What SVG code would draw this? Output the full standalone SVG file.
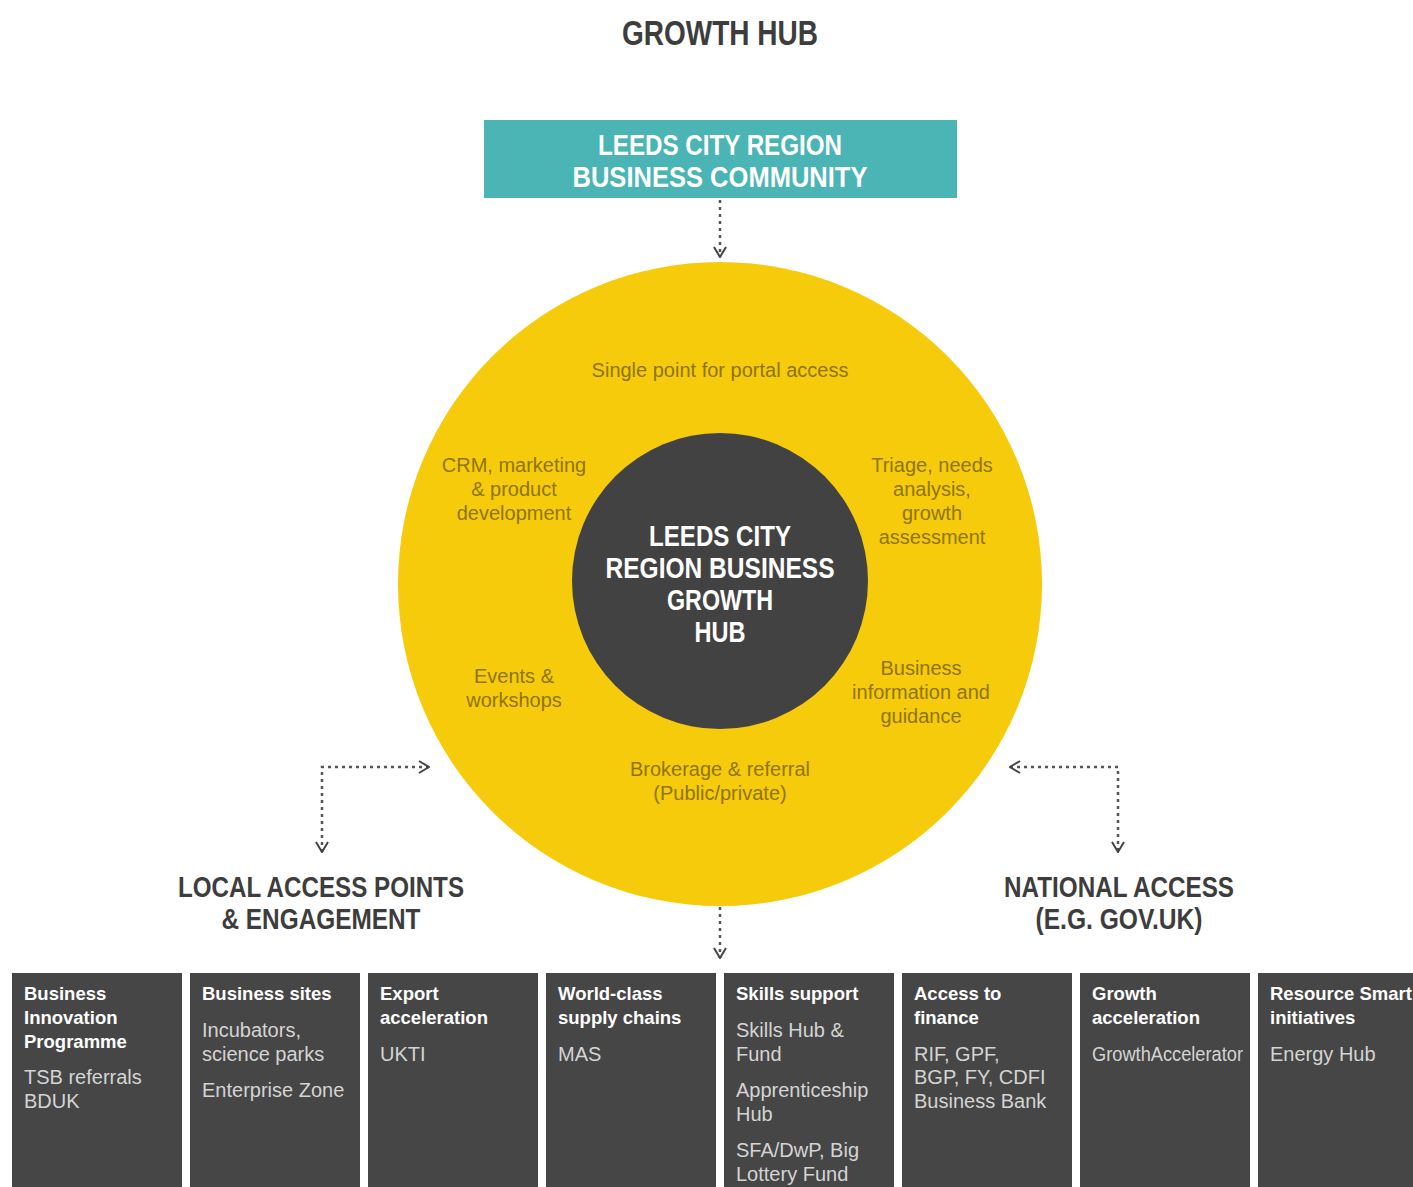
<svg xmlns="http://www.w3.org/2000/svg" width="1413" height="1187" viewBox="0 0 1413 1187">
<style>
.hd{font-family:"Liberation Sans",Arial,sans-serif;font-weight:bold;fill:#3d3d3d}
.wh{font-family:"Liberation Sans",Arial,sans-serif;font-weight:bold;fill:#ffffff}
.yt{font-family:"Liberation Sans",Arial,sans-serif;font-size:20px;fill:#8f7400;text-anchor:middle}
.bx{fill:#464646}
.bh{font-family:"Liberation Sans",Arial,sans-serif;font-weight:bold;font-size:18.5px;fill:#ffffff}
.bb{font-family:"Liberation Sans",Arial,sans-serif;font-size:20px;fill:#d4d4d4}
.dot{fill:none;stroke:#555555;stroke-width:2.5;stroke-dasharray:3 4}
</style>
<defs>
<marker id="chev" viewBox="0 0 12 14" refX="11" refY="7" markerWidth="12" markerHeight="14" markerUnits="userSpaceOnUse" orient="auto-start-reverse">
<path d="M1,1 L11,7 L1,13" fill="none" stroke="#444444" stroke-width="2"/>
</marker>
</defs>
<rect width="1413" height="1187" fill="#ffffff"/>

<g id="title">
<text class="hd" x="720" y="45" font-size="35" text-anchor="middle" textLength="196" lengthAdjust="spacingAndGlyphs">GROWTH HUB</text>
</g>

<g id="community">
<rect x="484" y="120" width="473" height="78" fill="#4bb4b4"/>
<text class="wh" x="720" y="155" font-size="29" text-anchor="middle" textLength="244" lengthAdjust="spacingAndGlyphs">LEEDS CITY REGION</text>
<text class="wh" x="720" y="187" font-size="29" text-anchor="middle" textLength="295" lengthAdjust="spacingAndGlyphs">BUSINESS COMMUNITY</text>
</g>

<g id="hub-ring">
<circle cx="720" cy="584" r="322" fill="#f6cb0c"/>
<text class="yt" x="720" y="377">Single point for portal access</text>
<text class="yt" x="514" y="472">CRM, marketing</text>
<text class="yt" x="514" y="496">&amp; product</text>
<text class="yt" x="514" y="520">development</text>
<text class="yt" x="932" y="472">Triage, needs</text>
<text class="yt" x="932" y="496">analysis,</text>
<text class="yt" x="932" y="520">growth</text>
<text class="yt" x="932" y="544">assessment</text>
<text class="yt" x="514" y="683">Events &amp;</text>
<text class="yt" x="514" y="707">workshops</text>
<text class="yt" x="921" y="675">Business</text>
<text class="yt" x="921" y="699">information and</text>
<text class="yt" x="921" y="723">guidance</text>
<text class="yt" x="720" y="776">Brokerage &amp; referral</text>
<text class="yt" x="720" y="800">(Public/private)</text>
</g>

<g id="hub-core">
<circle cx="720" cy="581" r="148" fill="#434243"/>
<text class="wh" x="720" y="546" font-size="29" text-anchor="middle" textLength="142" lengthAdjust="spacingAndGlyphs">LEEDS CITY</text>
<text class="wh" x="720" y="578" font-size="29" text-anchor="middle" textLength="229" lengthAdjust="spacingAndGlyphs">REGION BUSINESS</text>
<text class="wh" x="720" y="610" font-size="29" text-anchor="middle" textLength="106" lengthAdjust="spacingAndGlyphs">GROWTH</text>
<text class="wh" x="720" y="642" font-size="29" text-anchor="middle" textLength="51" lengthAdjust="spacingAndGlyphs">HUB</text>
</g>

<g id="local-access">
<text class="hd" x="321" y="897" font-size="29" text-anchor="middle" textLength="286" lengthAdjust="spacingAndGlyphs">LOCAL ACCESS POINTS</text>
<text class="hd" x="321" y="929" font-size="29" text-anchor="middle" textLength="199" lengthAdjust="spacingAndGlyphs">&amp; ENGAGEMENT</text>
</g>

<g id="national-access">
<text class="hd" x="1119" y="897" font-size="29" text-anchor="middle" textLength="230" lengthAdjust="spacingAndGlyphs">NATIONAL ACCESS</text>
<text class="hd" x="1119" y="929" font-size="29" text-anchor="middle" textLength="167" lengthAdjust="spacingAndGlyphs">(E.G. GOV.UK)</text>
</g>

<g id="connectors">
<path class="dot" d="M720,200 V257" marker-end="url(#chev)"/>
<path class="dot" d="M429,767 H322 V852" marker-start="url(#chev)" marker-end="url(#chev)"/>
<path class="dot" d="M1010,767 H1118 V852" marker-start="url(#chev)" marker-end="url(#chev)"/>
<path class="dot" d="M720,907 V958" marker-end="url(#chev)"/>
</g>

<g id="box-innovation">
<rect class="bx" x="12" y="973" width="170" height="220"/>
<text class="bh" x="24" y="1000">Business</text>
<text class="bh" x="24" y="1024">Innovation</text>
<text class="bh" x="24" y="1048">Programme</text>
<text class="bb" x="24" y="1084">TSB referrals</text>
<text class="bb" x="24" y="1108">BDUK</text>
</g>

<g id="box-sites">
<rect class="bx" x="190" y="973" width="170" height="220"/>
<text class="bh" x="202" y="1000">Business sites</text>
<text class="bb" x="202" y="1037">Incubators,</text>
<text class="bb" x="202" y="1061">science parks</text>
<text class="bb" x="202" y="1097">Enterprise Zone</text>
</g>

<g id="box-export">
<rect class="bx" x="368" y="973" width="170" height="220"/>
<text class="bh" x="380" y="1000">Export</text>
<text class="bh" x="380" y="1024">acceleration</text>
<text class="bb" x="380" y="1061">UKTI</text>
</g>

<g id="box-supply">
<rect class="bx" x="546" y="973" width="170" height="220"/>
<text class="bh" x="558" y="1000">World-class</text>
<text class="bh" x="558" y="1024">supply chains</text>
<text class="bb" x="558" y="1061">MAS</text>
</g>

<g id="box-skills">
<rect class="bx" x="724" y="973" width="170" height="220"/>
<text class="bh" x="736" y="1000">Skills support</text>
<text class="bb" x="736" y="1037">Skills Hub &amp;</text>
<text class="bb" x="736" y="1061">Fund</text>
<text class="bb" x="736" y="1097">Apprenticeship</text>
<text class="bb" x="736" y="1121">Hub</text>
<text class="bb" x="736" y="1157">SFA/DwP, Big</text>
<text class="bb" x="736" y="1181">Lottery Fund</text>
</g>

<g id="box-finance">
<rect class="bx" x="902" y="973" width="170" height="220"/>
<text class="bh" x="914" y="1000">Access to</text>
<text class="bh" x="914" y="1024">finance</text>
<text class="bb" x="914" y="1061">RIF, GPF,</text>
<text class="bb" x="914" y="1084">BGP, FY, CDFI</text>
<text class="bb" x="914" y="1108">Business Bank</text>
</g>

<g id="box-growth">
<rect class="bx" x="1080" y="973" width="170" height="220"/>
<text class="bh" x="1092" y="1000" font-size="17">Growth</text>
<text class="bh" x="1092" y="1024" font-size="17">acceleration</text>
<text class="bb" x="1092" y="1061" font-size="17" textLength="151" lengthAdjust="spacingAndGlyphs">GrowthAccelerator</text>
</g>

<g id="box-resource">
<rect class="bx" x="1258" y="973" width="170" height="220"/>
<text class="bh" x="1270" y="1000">Resource Smart</text>
<text class="bh" x="1270" y="1024">initiatives</text>
<text class="bb" x="1270" y="1061">Energy Hub</text>
</g>
</svg>
